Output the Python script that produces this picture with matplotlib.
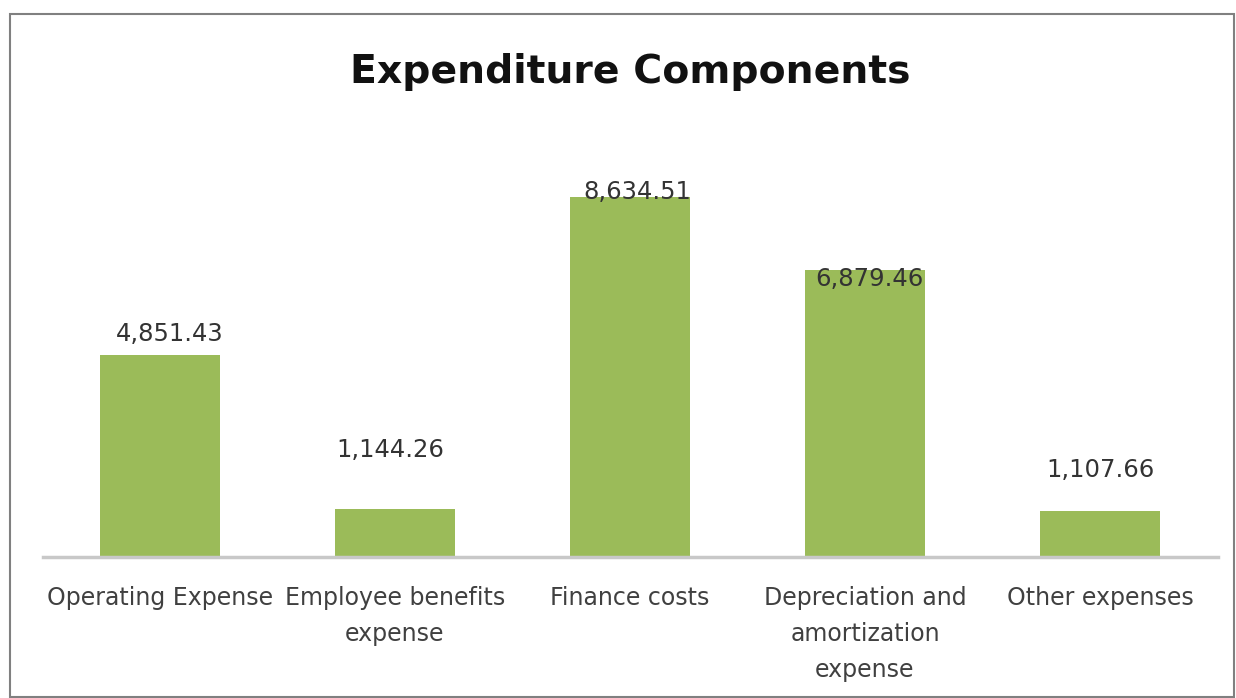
import matplotlib

matplotlib.use("Agg")

import matplotlib.pyplot as plt
from matplotlib.patches import Rectangle

categories = [
    "Operating Expense",
    "Employee benefits\nexpense",
    "Finance costs",
    "Depreciation and\namortization\nexpense",
    "Other expenses",
]
values = [4851.43, 1144.26, 8634.51, 6879.46, 1107.66]
value_labels = ["4,851.43", "1,144.26", "8,634.51", "6,879.46", "1,107.66"]

# label offsets (points) as in the original Excel layout
label_dx = [7, -3.5, 5, 3, 0]
label_dy = [15, 42.5, 3.6, -6.5, 29.5]

bar_color = "#9BBB59"

fig = plt.figure(figsize=(12.36, 6.98), dpi=100)
ax = fig.add_axes([42.5 / 1236, 1 - 557 / 698, 1175 / 1236, 417 / 698])

x = range(len(categories))
ax.bar(x, values, width=0.51, color=bar_color, zorder=2)
ax.set_xlim(-0.5, len(categories) - 0.5)
ax.set_ylim(0, 10000)

for xi, v, lab, dx, dy in zip(x, values, value_labels, label_dx, label_dy):
    ax.annotate(lab, (xi, v), xytext=(dx, dy), textcoords="offset points",
                ha="center", va="center", fontsize=17.5, color="#333333",
                zorder=3)

ax.set_xticks(list(x))
ax.set_xticklabels(categories, fontsize=17, color="#404040", linespacing=1.62)
ax.tick_params(axis="x", length=0, pad=21)
ax.set_yticks([])
for side in ["top", "left", "right"]:
    ax.spines[side].set_visible(False)
ax.spines["bottom"].set_color("#C8C8C8")
ax.spines["bottom"].set_linewidth(2.5)

fig.text(630 / 1236, 1 - 72 / 698, "Expenditure Components", ha="center",
         va="center", fontsize=28.4, fontweight="bold", color="#111111")

fig.patches.append(Rectangle((10 / 1236, 0.002), 1224 / 1236, 1 - 14 / 698 - 0.002,
                             transform=fig.transFigure, fill=False,
                             edgecolor="#808080", linewidth=1.5))

fig.savefig("out.png", dpi=100)
plt.close(fig)
